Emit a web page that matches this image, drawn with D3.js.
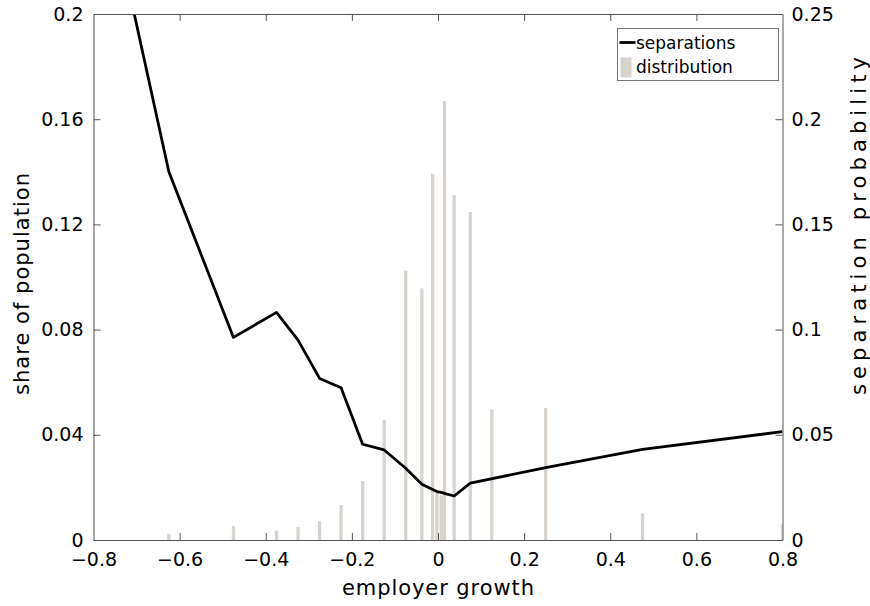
<!DOCTYPE html>
<html>
<head>
<meta charset="utf-8">
<script src="https://cdn.jsdelivr.net/npm/d3@7"></script>
<style>
  body { margin: 0; background: #fff; }
  text { font-family: "DejaVu Sans", sans-serif; fill: #000; }
</style>
</head>
<body>
<div id="chart"></div>
<script>
// share of population by employer growth bin (left axis)
var distX = [-0.625, -0.475, -0.375, -0.325, -0.275, -0.225, -0.175, -0.125, -0.075, -0.0375,
             -0.0125, -0.0025, 0.0075, 0.015, 0.0375, 0.075, 0.125, 0.25, 0.475, 0.8];
var distY = [0.0023, 0.0053, 0.0035, 0.0049, 0.0072, 0.0133, 0.0224, 0.0456, 0.1024, 0.0957,
             0.1392, 0.018, 0.017, 0.1669, 0.1311, 0.1247, 0.0497, 0.0502, 0.0101, 0.006];

// separation probability (right axis)
var sepX = [-0.775, -0.625, -0.475, -0.375, -0.325, -0.275, -0.225, -0.175, -0.125, -0.075,
            -0.0375, -0.0125, -0.0025, 0.0075, 0.015, 0.0375, 0.075, 0.25, 0.475, 0.8];
var sepY = [0.315, 0.175, 0.0963, 0.1082, 0.095, 0.0768, 0.0724, 0.0455, 0.0428, 0.0341,
            0.0265, 0.024, 0.023, 0.0226, 0.0222, 0.0209, 0.027, 0.0344, 0.0431, 0.0515];

var xTicks = [-0.8, -0.6, -0.4, -0.2, 0, 0.2, 0.4, 0.6, 0.8];
var leftTicks = [0, 0.04, 0.08, 0.12, 0.16, 0.2];
var rightTicks = [0, 0.05, 0.1, 0.15, 0.2, 0.25];

var W = 870, H = 606;
var m = {left: 93.5, top: 14, right: 87.5, bottom: 66};
var iw = W - m.left - m.right, ih = H - m.top - m.bottom;

var svg = d3.select("#chart").append("svg").attr("width", W).attr("height", H);

var x = d3.scaleLinear().domain([-0.8, 0.8]).range([0, iw]);
var yL = d3.scaleLinear().domain([0, 0.2]).range([ih, 0]);
var yR = d3.scaleLinear().domain([0, 0.25]).range([ih, 0]);

svg.append("defs").append("clipPath").attr("id", "clip")
  .append("rect").attr("width", iw).attr("height", ih);

var g = svg.append("g").attr("transform", "translate(" + m.left + "," + m.top + ")");
var plot = g.append("g").attr("clip-path", "url(#clip)");

var bw = 3.3;
plot.selectAll(".bar").data(distX).enter().append("rect")
  .attr("class", "bar")
  .attr("x", function(d) { return x(d) - bw / 2; })
  .attr("y", function(d, i) { return yL(distY[i]); })
  .attr("width", bw)
  .attr("height", function(d, i) { return ih - yL(distY[i]); })
  .attr("fill", "#d8d3cc");

var line = d3.line()
  .x(function(d) { return x(d); })
  .y(function(d, i) { return yR(sepY[i]); });

plot.append("path").datum(sepX)
  .attr("d", line)
  .attr("fill", "none")
  .attr("stroke", "#000")
  .attr("stroke-width", 2.8)
  .attr("stroke-linejoin", "round");

// axes box
var axCol = "#555";
function styleAxis(sel) {
  sel.select(".domain").attr("stroke", axCol);
  sel.selectAll(".tick line").attr("stroke", axCol);
  sel.selectAll("text").attr("font-size", "19px").attr("fill", "#000");
}

var xb = g.append("g").attr("transform", "translate(0," + ih + ")")
  .call(d3.axisBottom(x).tickValues(xTicks).tickSizeInner(-7).tickSizeOuter(0).tickPadding(13)
    .tickFormat(function(d) { return d === 0 ? "0" : d3.format(".1f")(d).replace("-", "\u2212"); }));
styleAxis(xb);
xb.selectAll(".tick").filter(function(d) { return d === -0.8 || d === 0.8; }).select("line").remove();

var xt = g.append("g")
  .call(d3.axisTop(x).tickValues(xTicks).tickSizeInner(-7).tickSizeOuter(0).tickFormat(""));
styleAxis(xt);
xt.selectAll(".tick").filter(function(d) { return d === -0.8 || d === 0.8; }).select("line").remove();

var yl = g.append("g")
  .call(d3.axisLeft(yL).tickValues(leftTicks).tickSizeInner(-7).tickSizeOuter(0).tickPadding(10)
    .tickFormat(function(d) { return d === 0 ? "0" : d3.format("")(+d.toFixed(2)); }));
styleAxis(yl);

var yr = g.append("g").attr("transform", "translate(" + iw + ",0)")
  .call(d3.axisRight(yR).tickValues(rightTicks).tickSizeInner(-7).tickSizeOuter(0).tickPadding(9)
    .tickFormat(function(d) { return d === 0 ? "0" : d3.format("")(+d.toFixed(2)); }));
styleAxis(yr);

// axis titles
svg.append("text")
  .attr("x", m.left + x(0)).attr("y", 595)
  .attr("text-anchor", "middle").attr("font-size", "21px")
  .attr("textLength", 192).attr("lengthAdjust", "spacing")
  .text("employer growth");

svg.append("text")
  .attr("transform", "translate(29,284) rotate(-90)")
  .attr("text-anchor", "middle").attr("font-size", "21px")
  .attr("textLength", 222).attr("lengthAdjust", "spacing")
  .text("share of population");

svg.append("text")
  .attr("transform", "translate(866,226) rotate(-90)")
  .attr("text-anchor", "middle").attr("font-size", "21px")
  .attr("textLength", 338).attr("lengthAdjust", "spacing")
  .text("separation probability");

// legend
var lg = svg.append("g").attr("transform", "translate(617.5,28.5)");
lg.append("rect").attr("width", 161).attr("height", 52)
  .attr("fill", "#fff").attr("stroke", "#777").attr("stroke-width", 1);
lg.append("line").attr("x1", 2).attr("x2", 18).attr("y1", 14).attr("y2", 14)
  .attr("stroke", "#000").attr("stroke-width", 2.8);
lg.append("text").attr("x", 18.5).attr("y", 20.5).attr("font-size", "17px").text("separations");
lg.append("rect").attr("x", 3).attr("y", 29).attr("width", 11).attr("height", 20).attr("fill", "#d8d3cc");
lg.append("text").attr("x", 18.5).attr("y", 44).attr("font-size", "17px").text("distribution");
</script>
</body>
</html>
